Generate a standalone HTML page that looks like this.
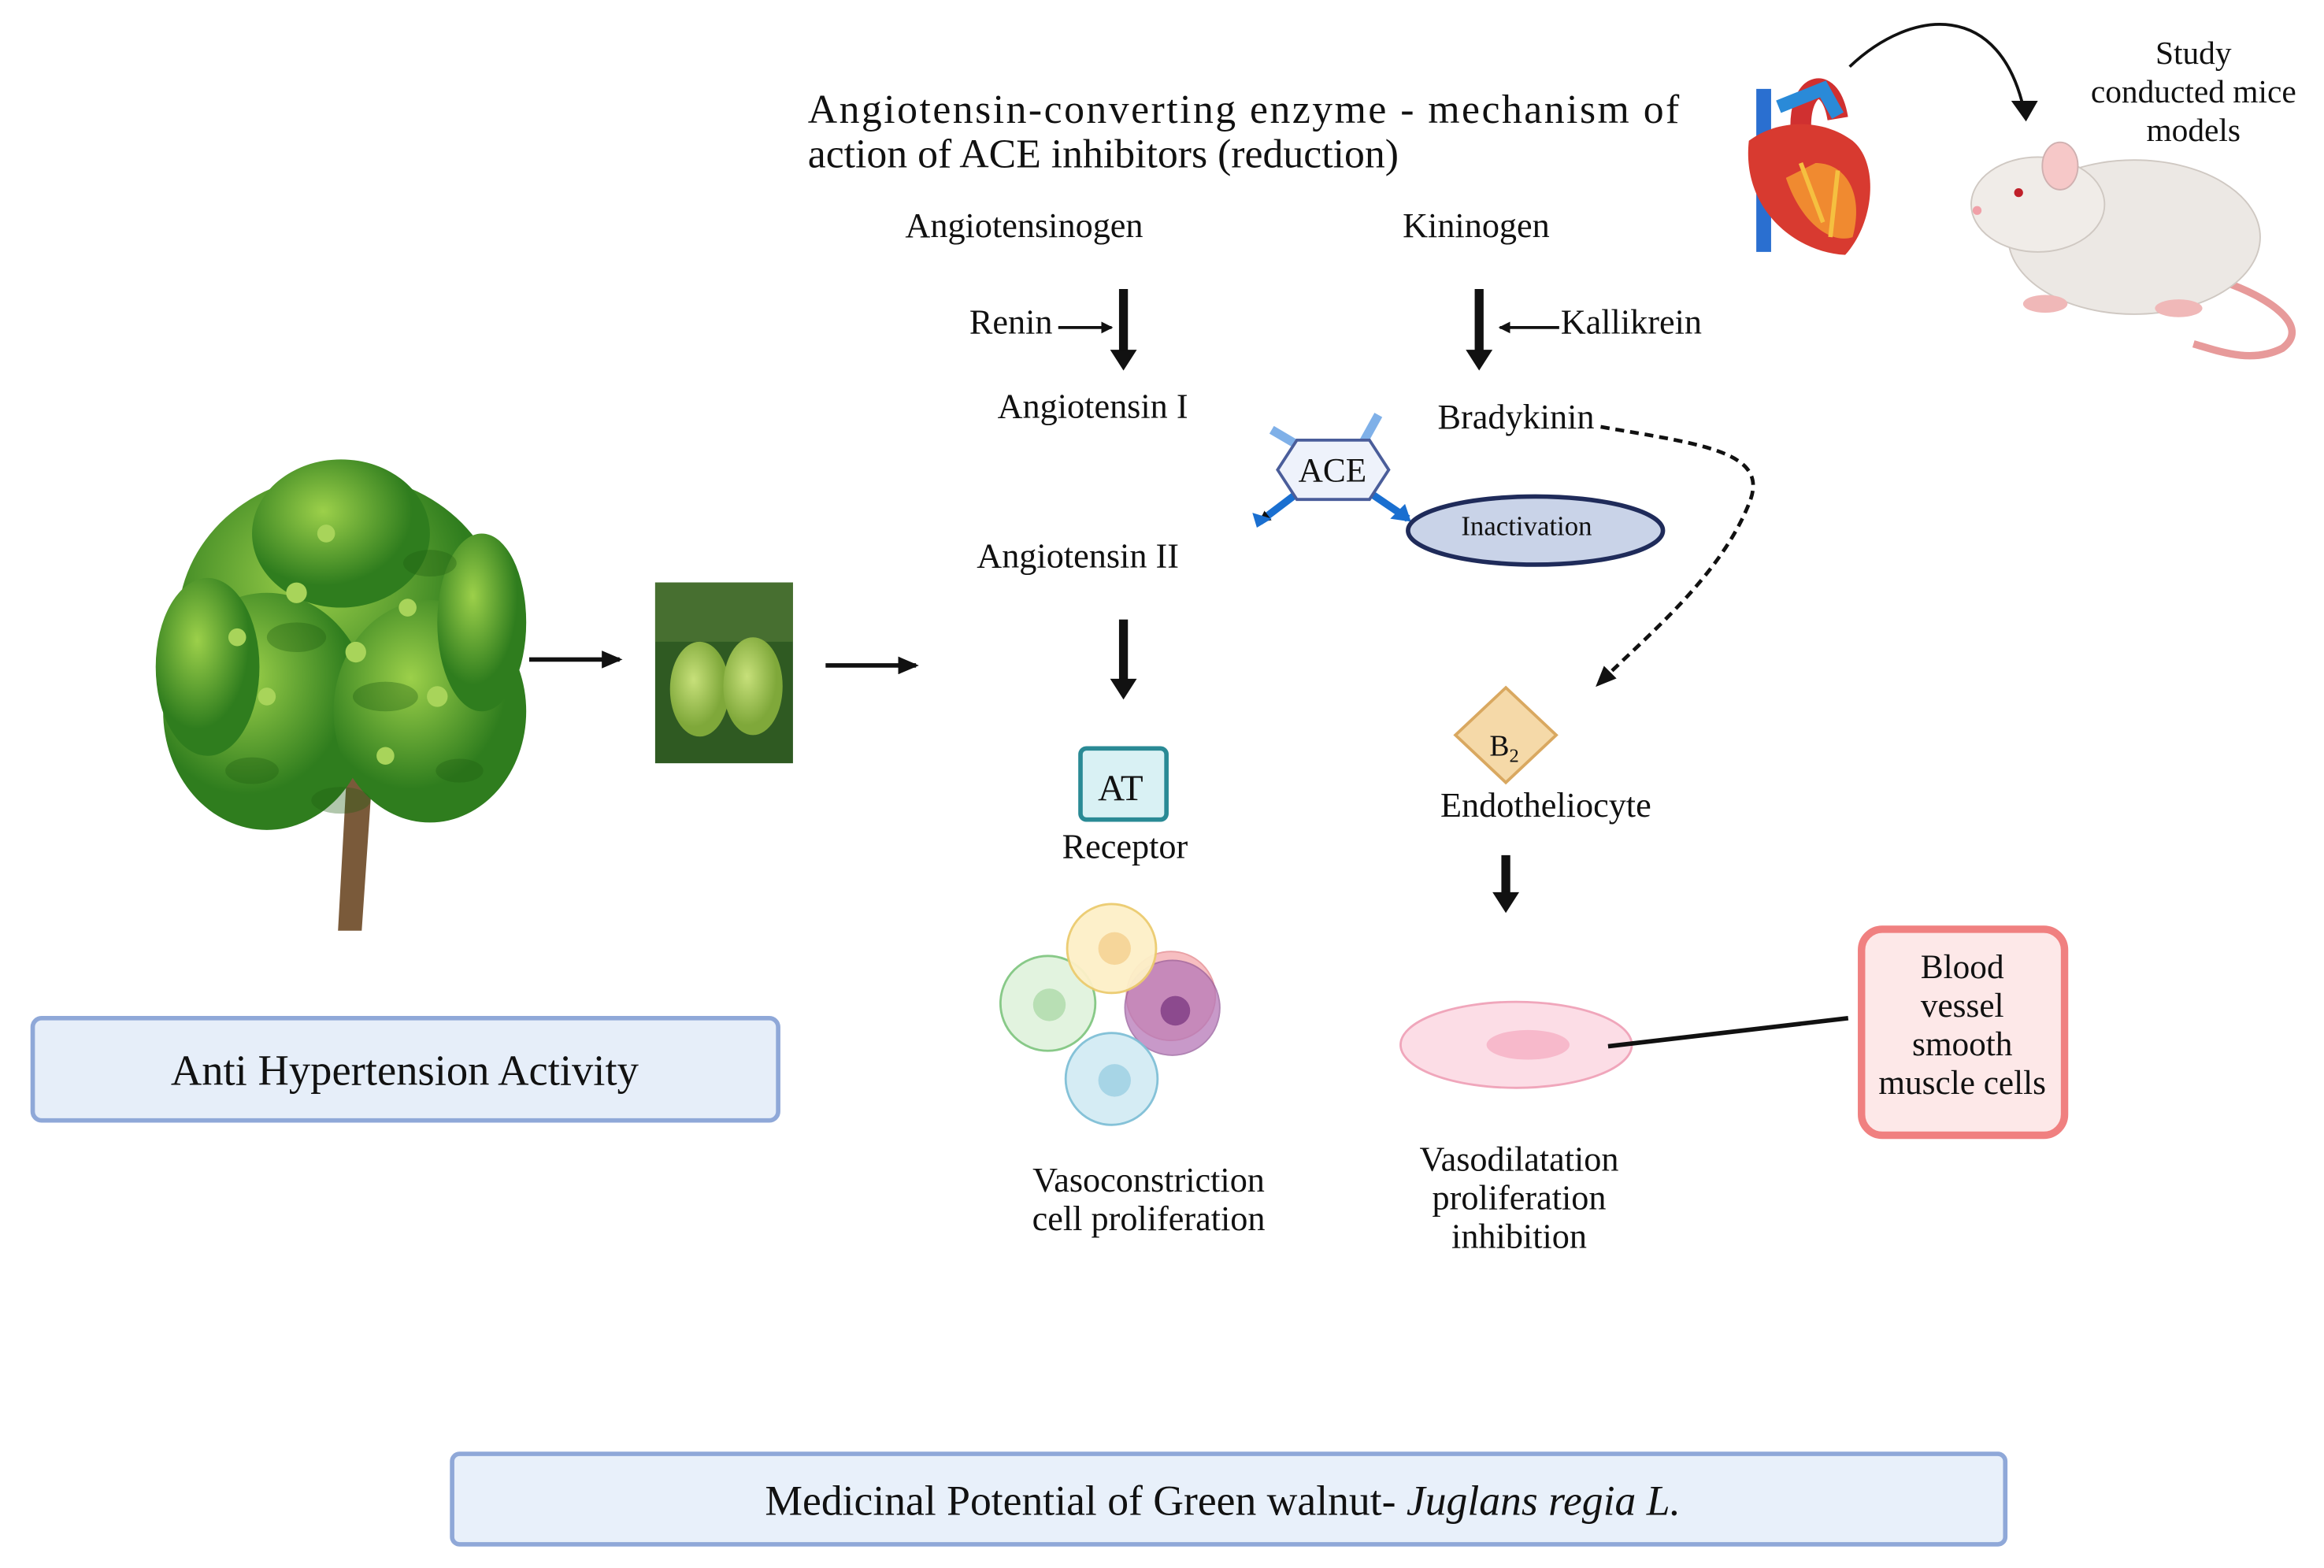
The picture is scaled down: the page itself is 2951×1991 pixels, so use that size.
<!DOCTYPE html>
<html><head><meta charset="utf-8"><style>
html,body{margin:0;padding:0;background:#fff}
svg{display:block}
text{font-family:"Liberation Serif",serif;fill:#111}
</style></head><body>
<svg width="2951" height="1991" viewBox="0 0 1568 1058" xmlns="http://www.w3.org/2000/svg">
<defs>
<marker id="ah" markerWidth="8" markerHeight="8" refX="7" refY="4" orient="auto" markerUnits="userSpaceOnUse"><path d="M0,0 L8,4 L0,8 Z" fill="#111"/></marker>
<marker id="ah2" markerWidth="14" markerHeight="12" refX="12" refY="6" orient="auto" markerUnits="userSpaceOnUse"><path d="M0,0 L14,6 L0,12 Z" fill="#111"/></marker>
<radialGradient id="lf" cx="40%" cy="35%"><stop offset="0" stop-color="#9cd04a"/><stop offset="1" stop-color="#2f7d1e"/></radialGradient>
<radialGradient id="nut" cx="40%" cy="40%"><stop offset="0" stop-color="#c7e07a"/><stop offset="1" stop-color="#7fa83a"/></radialGradient>
</defs>
<rect width="1568" height="1058" fill="#fff"/>

<!-- title -->
<text x="545" y="83" font-size="27.5" textLength="588" lengthAdjust="spacing">Angiotensin-converting enzyme - mechanism of</text>
<text x="545" y="113" font-size="27.5">action of ACE inhibitors (reduction)</text>

<text x="691" y="160" font-size="23.5" text-anchor="middle">Angiotensinogen</text>
<text x="996" y="160" font-size="23.5" text-anchor="middle">Kininogen</text>

<!-- renin arrow -->
<line x1="758" y1="195" x2="758" y2="238" stroke="#111" stroke-width="6"/>
<path d="M749,236 L767,236 L758,250 Z" fill="#111"/>
<text x="654" y="225" font-size="23.5">Renin</text>
<line x1="714" y1="221" x2="750" y2="221" stroke="#111" stroke-width="2" marker-end="url(#ah)"/>

<line x1="998" y1="195" x2="998" y2="238" stroke="#111" stroke-width="6"/>
<path d="M989,236 L1007,236 L998,250 Z" fill="#111"/>
<text x="1053" y="225" font-size="23.5">Kallikrein</text>
<line x1="1052" y1="221" x2="1012" y2="221" stroke="#111" stroke-width="2" marker-end="url(#ah)"/>

<text x="673" y="282" font-size="23.5">Angiotensin I</text>
<text x="970" y="289" font-size="23.5">Bradykinin</text>
<path d="M1080,288 C1150,300 1195,305 1180,340 C1160,390 1110,430 1078,462" fill="none" stroke="#111" stroke-width="2.5" stroke-dasharray="6,4" marker-end="url(#ah2)"/>

<!-- ACE -->
<path d="M858,290 L875,300" stroke="#7fb0e8" stroke-width="6"/>
<path d="M930,280 L920,298" stroke="#7fb0e8" stroke-width="6"/>
<path d="M875,333 L850,352" stroke="#1a6fd0" stroke-width="5" marker-end="url(#ah)"/>
<path d="M925,333 L950,350" stroke="#1a6fd0" stroke-width="5"/>
<path d="M948,340 L952,352 L938,350 Z" fill="#1a6fd0"/>
<path d="M845,346 L848,356 L858,350 Z" fill="#1a6fd0"/>
<polygon points="862,317 875,297 924,297 937,317 924,337 875,337" fill="#eef2fb" stroke="#4a5d9a" stroke-width="2"/>
<text x="899" y="325" font-size="23" text-anchor="middle">ACE</text>
<ellipse cx="1036" cy="358" rx="86" ry="23" fill="#c9d3e8" stroke="#1f2b5a" stroke-width="3"/>
<text x="1030" y="361" font-size="18.5" text-anchor="middle">Inactivation</text>

<text x="659" y="383" font-size="23.5">Angiotensin II</text>
<line x1="758" y1="418" x2="758" y2="460" stroke="#111" stroke-width="6"/>
<path d="M749,458 L767,458 L758,472 Z" fill="#111"/>

<rect x="729" y="505" width="58" height="48" rx="4" fill="#d9f1f4" stroke="#2a8a95" stroke-width="3"/>
<text x="756" y="540" font-size="25" text-anchor="middle">AT</text>
<text x="759" y="579" font-size="23.5" text-anchor="middle">Receptor</text>

<!-- cells -->
<circle cx="790" cy="672" r="30" fill="#f4a3a8" opacity="0.7" stroke="#e07a80"/>
<circle cx="791" cy="680" r="32" fill="#b678b8" opacity="0.75" stroke="#965a9a"/><circle cx="793" cy="682" r="10" fill="#8c4a8e"/>
<circle cx="707" cy="677" r="32" fill="#dff2dc" stroke="#7cc47c" stroke-width="1.5" opacity="0.9"/><circle cx="708" cy="678" r="11" fill="#b8dfb4"/>
<circle cx="750" cy="640" r="30" fill="#fdf0c8" stroke="#eccb6e" stroke-width="1.5" opacity="0.95"/><circle cx="752" cy="640" r="11" fill="#f6d69a"/>
<circle cx="750" cy="728" r="31" fill="#d3ecf4" stroke="#7fbfd6" stroke-width="1.5" opacity="0.95"/><circle cx="752" cy="729" r="11" fill="#a7d5e6"/>

<text x="775" y="804" font-size="23.5" text-anchor="middle">Vasoconstriction</text>
<text x="775" y="830" font-size="23.5" text-anchor="middle">cell proliferation</text>

<!-- B2 -->
<polygon points="1016,464 1050,496 1016,528 982,496" fill="#f5d9a8" stroke="#d9a860" stroke-width="2"/>
<text x="1005" y="510" font-size="20">B<tspan font-size="13" dy="4">2</tspan></text>
<text x="1043" y="551" font-size="23.5" text-anchor="middle">Endotheliocyte</text>
<line x1="1016" y1="577" x2="1016" y2="604" stroke="#111" stroke-width="6"/>
<path d="M1007,602 L1025,602 L1016,616 Z" fill="#111"/>

<ellipse cx="1023" cy="705" rx="78" ry="29" fill="#fcdde6" stroke="#f0a6bb" stroke-width="1.5"/>
<ellipse cx="1031" cy="705" rx="28" ry="10" fill="#f7b9cb"/>
<line x1="1085" y1="706" x2="1247" y2="687" stroke="#111" stroke-width="3"/>
<rect x="1256" y="627" width="137" height="139" rx="14" fill="#fde8e8" stroke="#f08080" stroke-width="5"/>
<text x="1324" y="660" font-size="23" text-anchor="middle">Blood</text>
<text x="1324" y="686" font-size="23" text-anchor="middle">vessel</text>
<text x="1324" y="712" font-size="23" text-anchor="middle">smooth</text>
<text x="1324" y="738" font-size="23" text-anchor="middle">muscle cells</text>

<text x="1025" y="790" font-size="23.5" text-anchor="middle">Vasodilatation</text>
<text x="1025" y="816" font-size="23.5" text-anchor="middle">proliferation</text>
<text x="1025" y="842" font-size="23.5" text-anchor="middle">inhibition</text>

<!-- tree -->
<path d="M228,628 L234,520 L220,470 L238,500 L245,450 L248,520 L262,480 L250,540 L244,628 Z" fill="#7a5a3a"/>
<g fill="url(#lf)">
<ellipse cx="230" cy="420" rx="110" ry="100"/>
<ellipse cx="180" cy="480" rx="70" ry="80"/>
<ellipse cx="290" cy="480" rx="65" ry="75"/>
<ellipse cx="230" cy="360" rx="60" ry="50"/>
<ellipse cx="140" cy="450" rx="35" ry="60"/>
<ellipse cx="325" cy="420" rx="30" ry="60"/>
</g>
<g fill="#1f5e12" opacity="0.35">
<ellipse cx="200" cy="430" rx="20" ry="10"/><ellipse cx="260" cy="470" rx="22" ry="10"/><ellipse cx="170" cy="520" rx="18" ry="9"/><ellipse cx="290" cy="380" rx="18" ry="9"/><ellipse cx="230" cy="540" rx="20" ry="9"/><ellipse cx="310" cy="520" rx="16" ry="8"/>
</g>
<g fill="#a8d45a">
<circle cx="200" cy="400" r="7"/><circle cx="240" cy="440" r="7"/><circle cx="275" cy="410" r="6"/><circle cx="180" cy="470" r="6"/><circle cx="295" cy="470" r="7"/><circle cx="220" cy="360" r="6"/><circle cx="160" cy="430" r="6"/><circle cx="260" cy="510" r="6"/>
</g>

<line x1="357" y1="445" x2="418" y2="445" stroke="#111" stroke-width="3" marker-end="url(#ah2)"/>
<rect x="442" y="393" width="93" height="122" fill="#2f5a22"/>
<rect x="442" y="393" width="93" height="40" fill="#587d3a" opacity="0.6"/>
<ellipse cx="472" cy="465" rx="20" ry="32" fill="url(#nut)"/>
<ellipse cx="508" cy="463" rx="20" ry="33" fill="url(#nut)"/>
<line x1="557" y1="449" x2="618" y2="449" stroke="#111" stroke-width="3" marker-end="url(#ah2)"/>

<rect x="22" y="687" width="503" height="69" rx="6" fill="#e6eef9" stroke="#8fa8d8" stroke-width="3"/>
<text x="273" y="732" font-size="29" text-anchor="middle">Anti Hypertension Activity</text>

<rect x="305" y="981" width="1048" height="61" rx="5" fill="#e8f0fa" stroke="#8fa8d8" stroke-width="3"/>
<text x="825" y="1022" font-size="28.5" text-anchor="middle">Medicinal Potential of Green walnut- <tspan font-style="italic">Juglans regia L.</tspan></text>

<!-- heart -->
<path d="M1190,60 L1190,170" stroke="#2a6fd0" stroke-width="10"/>
<path d="M1215,85 C1215,55 1235,50 1240,80" fill="none" stroke="#d03030" stroke-width="14"/>
<path d="M1180,95 C1175,140 1210,170 1245,172 C1265,150 1268,110 1250,95 C1230,80 1200,80 1180,95 Z" fill="#d83a30"/>
<path d="M1205,120 C1215,150 1235,165 1250,160 C1258,130 1245,110 1225,110 Z" fill="#f08a30"/>
<path d="M1200,72 L1230,60 L1240,78" fill="none" stroke="#2a8ad8" stroke-width="9"/>
<path d="M1215,110 L1230,150 M1240,115 L1235,160" stroke="#f5c040" stroke-width="3"/>
<path d="M1248,45 C1290,5 1350,0 1366,76" fill="none" stroke="#111" stroke-width="2"/>
<path d="M1357,68 L1375,68 L1367,82 Z" fill="#111"/>
<text x="1480" y="43" font-size="22" text-anchor="middle">Study</text>
<text x="1480" y="69" font-size="22" text-anchor="middle">conducted mice</text>
<text x="1480" y="95" font-size="22" text-anchor="middle">models</text>

<!-- mouse -->
<path d="M1500,190 C1530,200 1560,220 1540,235 C1520,245 1500,238 1480,232" fill="none" stroke="#e79a9a" stroke-width="5"/>
<ellipse cx="1440" cy="160" rx="85" ry="52" fill="#ece8e4" stroke="#cfc8c2"/>
<ellipse cx="1375" cy="138" rx="45" ry="32" fill="#f0ece8" stroke="#cfc8c2"/>
<ellipse cx="1390" cy="112" rx="12" ry="16" fill="#f6c8c8" stroke="#cfb0b0"/>
<circle cx="1362" cy="130" r="3" fill="#c0202a"/>
<circle cx="1334" cy="142" r="3" fill="#f0a0a8"/>
<ellipse cx="1380" cy="205" rx="15" ry="6" fill="#f0b8b8"/>
<ellipse cx="1470" cy="208" rx="16" ry="6" fill="#f0b8b8"/>
</svg>
</body></html>
